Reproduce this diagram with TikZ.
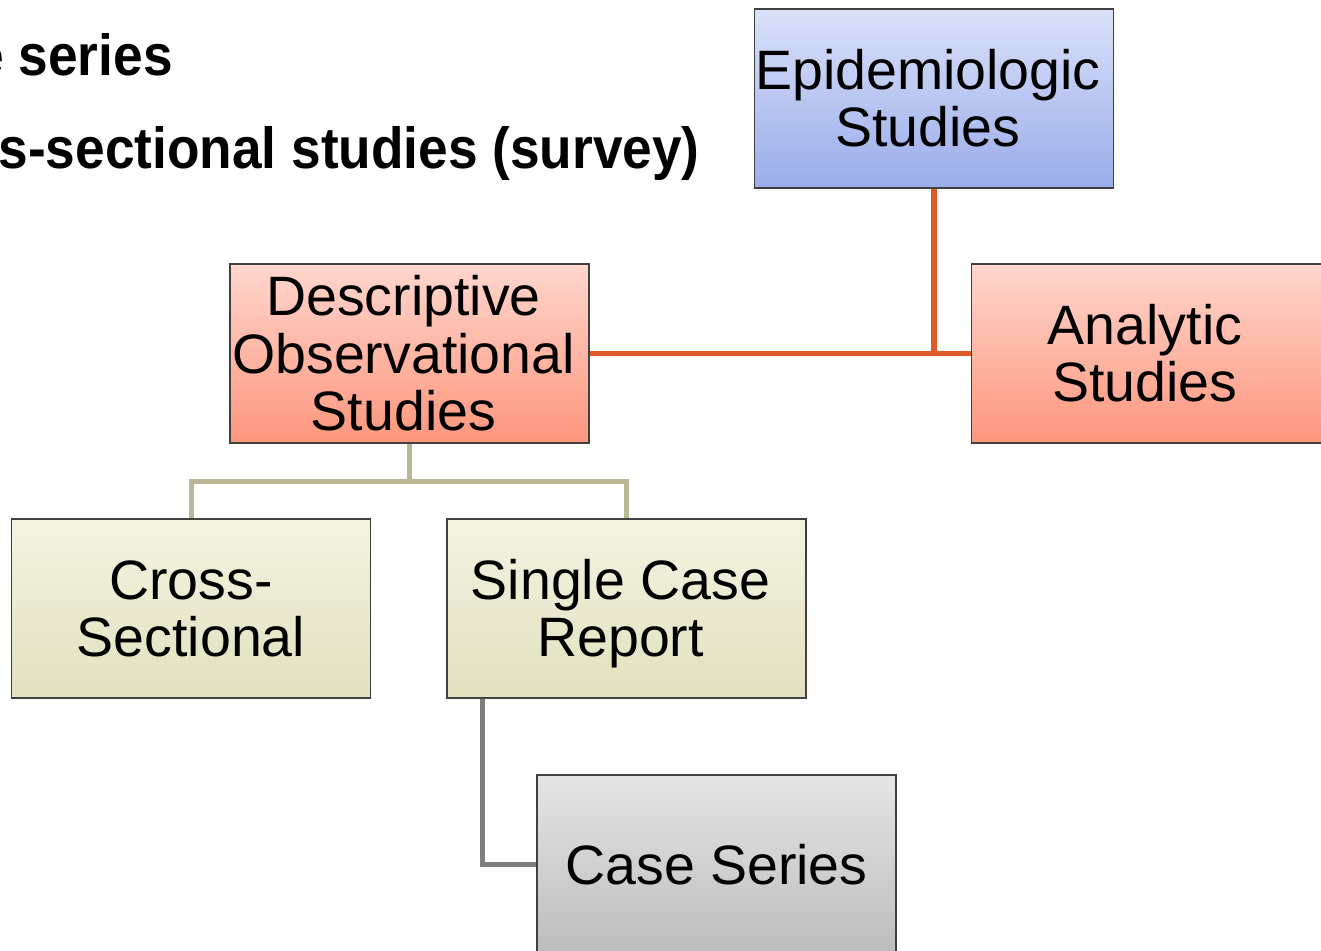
\documentclass[tikz,border=0pt]{standalone}
\usepackage{fontspec}
\setmainfont{Liberation Sans}
\newfontfamily\headfont[FakeStretch=0.918]{Liberation Sans}
\usetikzlibrary{positioning}

\definecolor{boxborder}{RGB}{64,64,64}
\definecolor{bluetop}{RGB}{218,225,249}
\definecolor{bluebot}{RGB}{154,172,234}
\definecolor{salmontop}{RGB}{255,214,205}
\definecolor{salmonbot}{RGB}{253,150,125}
\definecolor{olivetop}{RGB}{243,243,226}
\definecolor{olivebot}{RGB}{226,224,190}
\definecolor{greytop}{RGB}{229,229,229}
\definecolor{greybot}{RGB}{188,188,188}
\definecolor{linkorange}{RGB}{224,90,40}
\definecolor{linkolive}{RGB}{184,184,148}
\definecolor{linkgrey}{RGB}{128,128,128}

% stacked, centred box text (trimmed depth drops it a little);
% the "sp" form keeps a trailing space
\newcommand{\stacktext}[1]{\raisebox{0pt}[\height][\dimexpr\depth-16pt\relax]{\begin{tabular}{@{}c@{}}#1\end{tabular}}}
\newcommand{\stacktextsp}[1]{\stacktext{#1}\hspace*{12pt}}

\tikzset{
  studybox/.style={rectangle, draw=boxborder, line width=1.3pt,
    minimum width=359pt, minimum height=179pt, inner sep=0pt,
    font=\fontsize{55.5}{57}\selectfont},
  bluebox/.style={studybox, top color=bluetop, bottom color=bluebot},
  salmonbox/.style={studybox, top color=salmontop, bottom color=salmonbot},
  olivebox/.style={studybox, top color=olivetop, bottom color=olivebot},
  greybox/.style={studybox, top color=greytop, bottom color=greybot},
  orangelink/.style={draw=linkorange, line width=5.5pt, line join=miter},
  olivelink/.style={draw=linkolive, line width=5pt, line join=miter},
  greylink/.style={draw=linkgrey, line width=5pt, line join=miter},
  headline/.style={inner sep=0pt, anchor=base east,
    font=\headfont\bfseries\fontsize{58}{60}\selectfont}
}

\begin{document}
\begin{tikzpicture}[x=1pt, y=-1pt]
  \useasboundingbox (0,0) rectangle (1321,950);
  \clip (0,0) rectangle (1321,950);

  % slide bullet text behind the chart
  \node[headline] (bulletA) at (173,75) {e series};
  \node[headline] (bulletB) at (700,168) {s-sectional studies (survey)};

  % boxes
  \node[bluebox]   (epi)     at (934,98.5)    {\stacktextsp{Epidemiologic\\Studies}};
  \node[salmonbox] (desc)    at (409.5,353.5) {\stacktextsp{Descriptive\\Observational\\Studies}};
  \node[salmonbox] (anal)    at (1151,353.5)  {\stacktextsp{Analytic\\Studies}};
  \node[olivebox]  (cross)   at (191,608.5)   {\stacktext{Cross-\\Sectional}};
  \node[olivebox]  (single)  at (626.5,608.5) {\stacktextsp{Single Case\\Report}};
  \node[greybox]   (caseser) at (716.5,864.5) {Case Series};

  % connectors
  \draw[orangelink] (desc.east) -- (anal.west);
  \draw[orangelink] (epi.south) -- (epi.south |- desc.east);
  \draw[olivelink] (desc.south) -- ++(0,38) coordinate (dj);
  \draw[olivelink] (dj) -| (cross.north);
  \draw[olivelink] (dj) -| (single.north);
  \coordinate (sfoot) at ([xshift=36pt]single.south west);
  \draw[greylink] (sfoot) |- (caseser.west);
\end{tikzpicture}
\end{document}
